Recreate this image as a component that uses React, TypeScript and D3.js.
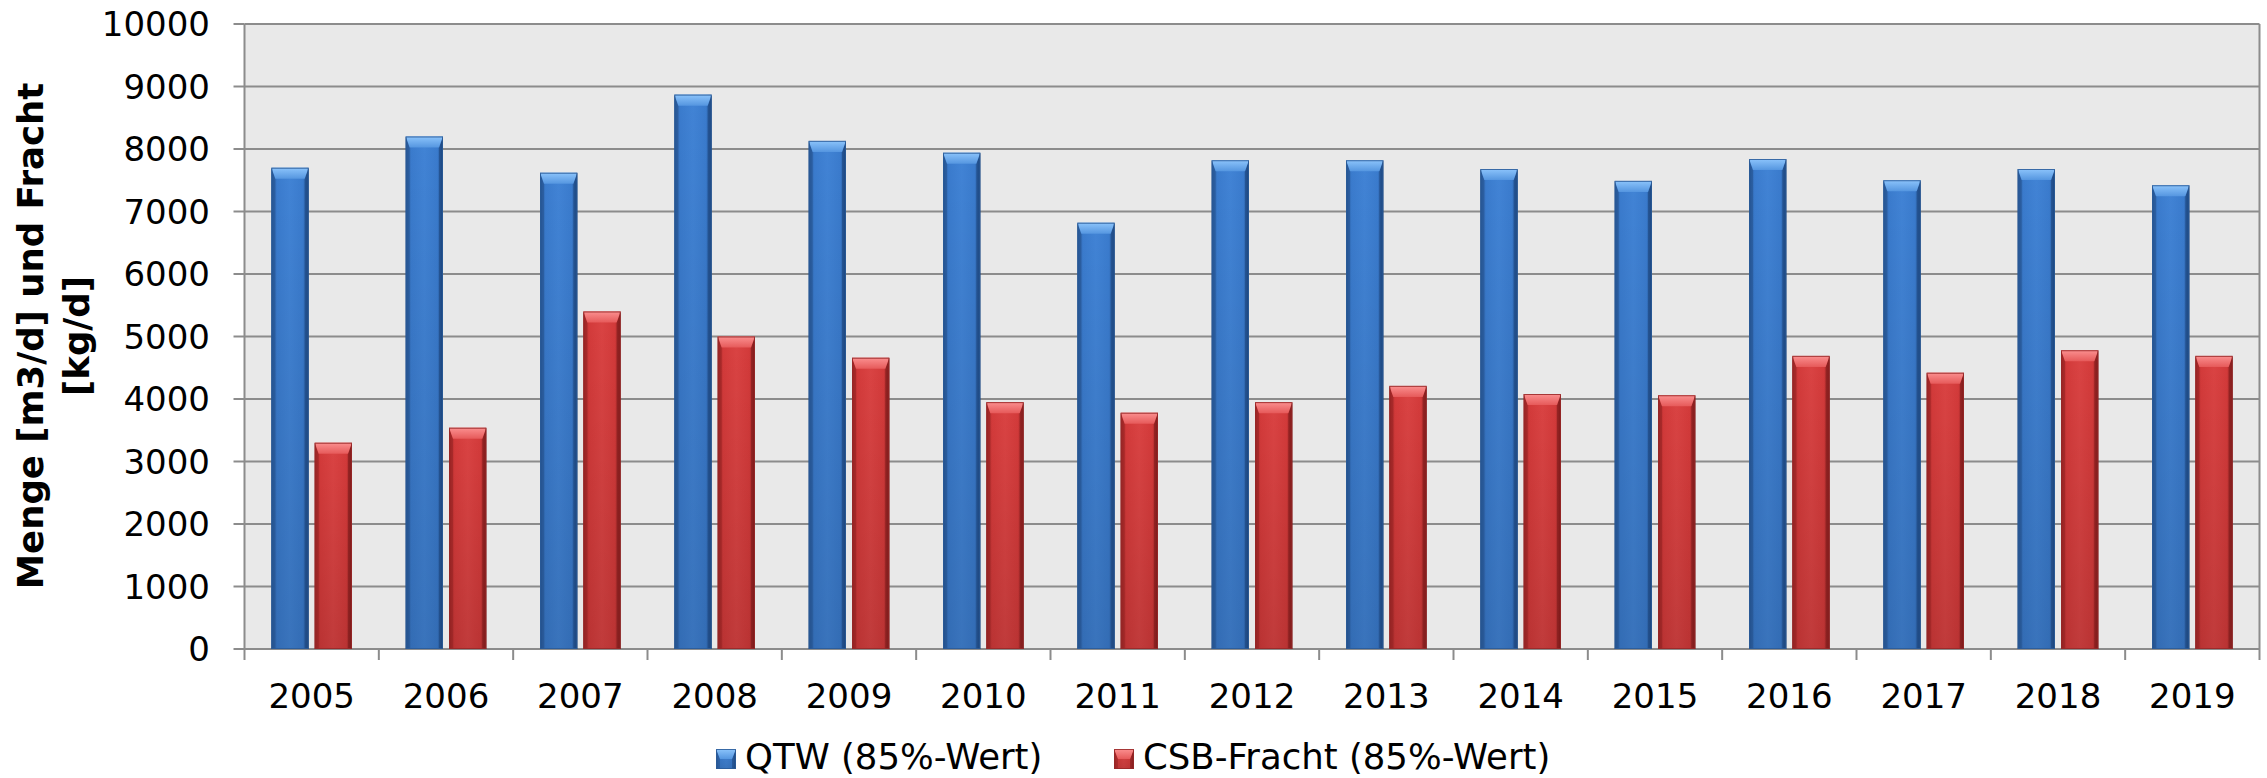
import React from "react";
import * as d3 from "d3";

const years = ["2005","2006","2007","2008","2009","2010","2011","2012","2013","2014","2015","2016","2017","2018","2019"];
const qtw = [7700, 8200, 7620, 8870, 8130, 7940, 6820, 7820, 7820, 7680, 7490, 7840, 7500, 7680, 7420];
const csb = [3300, 3540, 5400, 5000, 4660, 3950, 3780, 3950, 4210, 4080, 4060, 4690, 4420, 4780, 4690];
const seriesNames = ["QTW (85%-Wert)", "CSB-Fracht (85%-Wert)"];
const yTicks = [0, 1000, 2000, 3000, 4000, 5000, 6000, 7000, 8000, 9000, 10000];

const W = 2267, H = 778;
const plotL = 244.5, plotR = 2259.5, plotT = 24, plotB = 649;
const FONT = "'DejaVu Sans', Verdana, sans-serif";

const palettes = [
  { id: "b", edge: "#275592", body: "#3a7bcd", mid: "#4183d5", top1: "#8cc4fb", top2: "#5596e0", dark: "#1e4780", stroke: "#2a5a98" },
  { id: "r", edge: "#9a2525", body: "#d33a3a", mid: "#da4343", top1: "#fb9090", top2: "#e65a5a", dark: "#801c1c", stroke: "#962828" },
];

function Bar({ x, y, w, h, p }: { x: number; y: number; w: number; h: number; p: typeof palettes[0] }) {
  const bt = Math.min(11, h / 2);
  const bs = 4;
  const x1 = x + w, y1 = y + h;
  return (
    <g>
      <rect x={x} y={y} width={w} height={h} fill={`url(#body-${p.id})`} />
      <rect x={x} y={y} width={w} height={h} fill="url(#vshade)" />
      <polygon points={`${x},${y} ${x + bs},${y + bt} ${x + bs},${y1} ${x},${y1}`} fill={p.edge} opacity={0.6} />
      <polygon points={`${x1},${y} ${x1 - bs},${y + bt} ${x1 - bs},${y1} ${x1},${y1}`} fill={p.dark} opacity={0.6} />
      <polygon points={`${x},${y} ${x1},${y} ${x1 - bs},${y + bt} ${x + bs},${y + bt}`} fill={`url(#top-${p.id})`} />
      <rect x={x + 0.5} y={y + 0.5} width={w - 1} height={h - 1} fill="none" stroke={p.stroke} strokeWidth={1} opacity={0.85} />
    </g>
  );
}

export default function App() {
  const x = d3.scaleBand<string>().domain(years).range([plotL, plotR]).paddingInner(0).paddingOuter(0);
  const groupPad = 26.85;
  const xs = d3.scaleBand<number>().domain([0, 1]).range([groupPad, x.bandwidth() - groupPad]).paddingInner(0.139).paddingOuter(0);
  const y = d3.scaleLinear().domain([0, 10000]).range([plotB, plotT]);
  const data = [qtw, csb];

  return (
    <svg width={W} height={H} style={{ position: "absolute", left: 0, top: 0, background: "#fff" }} fontFamily={FONT}>
      <defs>
        {palettes.map((p) => (
          <React.Fragment key={p.id}>
            <linearGradient id={`body-${p.id}`} x1="0" x2="1" y1="0" y2="0">
              <stop offset="0" stopColor={p.edge} />
              <stop offset="0.15" stopColor={p.body} />
              <stop offset="0.5" stopColor={p.mid} />
              <stop offset="0.85" stopColor={p.body} />
              <stop offset="1" stopColor={p.dark} />
            </linearGradient>
            <linearGradient id={`top-${p.id}`} x1="0" x2="0" y1="0" y2="1">
              <stop offset="0" stopColor={p.top1} />
              <stop offset="1" stopColor={p.top2} />
            </linearGradient>
          </React.Fragment>
        ))}
        <linearGradient id="vshade" x1="0" x2="0" y1="0" y2="1">
          <stop offset="0" stopColor="#000" stopOpacity={0} />
          <stop offset="1" stopColor="#000" stopOpacity={0.12} />
        </linearGradient>
      </defs>

      <rect x={plotL} y={plotT} width={plotR - plotL} height={plotB - plotT} fill="#e9e9e9" />

      {yTicks.map((t) => (
        <line key={t} x1={plotL} x2={plotR} y1={y(t)} y2={y(t)} stroke="#8c8c8c" strokeWidth={2} />
      ))}
      <line x1={plotR} x2={plotR} y1={plotT} y2={plotB} stroke="#8c8c8c" strokeWidth={2} />
      <line x1={plotL} x2={plotL} y1={plotT} y2={plotB} stroke="#8c8c8c" strokeWidth={2} />

      {yTicks.map((t) => (
        <g key={"yt" + t}>
          <line x1={plotL - 11} x2={plotL} y1={y(t)} y2={y(t)} stroke="#8c8c8c" strokeWidth={2} />
          <text x={210} y={y(t)} dy="0.36em" textAnchor="end" fontSize={34} fill="#000">{t}</text>
        </g>
      ))}

      {years.map((yr) => (
        <line key={"xt" + yr} x1={x(yr)!} x2={x(yr)!} y1={plotB} y2={plotB + 11} stroke="#8c8c8c" strokeWidth={2} />
      ))}
      <line x1={plotR} x2={plotR} y1={plotB} y2={plotB + 11} stroke="#8c8c8c" strokeWidth={2} />

      {years.map((yr, i) => (
        <g key={"g" + yr}>
          {data.map((arr, s) => {
            const bx = x(yr)! + xs(s)!;
            const by = y(arr[i]);
            return <Bar key={s} x={bx} y={by} w={xs.bandwidth()} h={plotB - by} p={palettes[s]} />;
          })}
        </g>
      ))}

      {years.map((yr) => (
        <text key={"xl" + yr} x={x(yr)! + x.bandwidth() / 2} y={708} textAnchor="middle" fontSize={34} fill="#000">{yr}</text>
      ))}

      <text transform="translate(43,336) rotate(-90)" textAnchor="middle" fontSize={35.5} fontWeight="bold" fill="#000">
        <tspan x={0} dy={0}>Menge [m3/d] und Fracht</tspan>
        <tspan x={0} dy={46}>[kg/d]</tspan>
      </text>

      {[{ mx: 716, tx: 745 }, { mx: 1114, tx: 1143 }].map((l, s) => (
        <g key={"lg" + s}>
          <Bar x={l.mx} y={749} w={20} h={20} p={palettes[s]} />
          <text x={l.tx} y={769} fontSize={35.5} fill="#000">{seriesNames[s]}</text>
        </g>
      ))}
    </svg>
  );
}
